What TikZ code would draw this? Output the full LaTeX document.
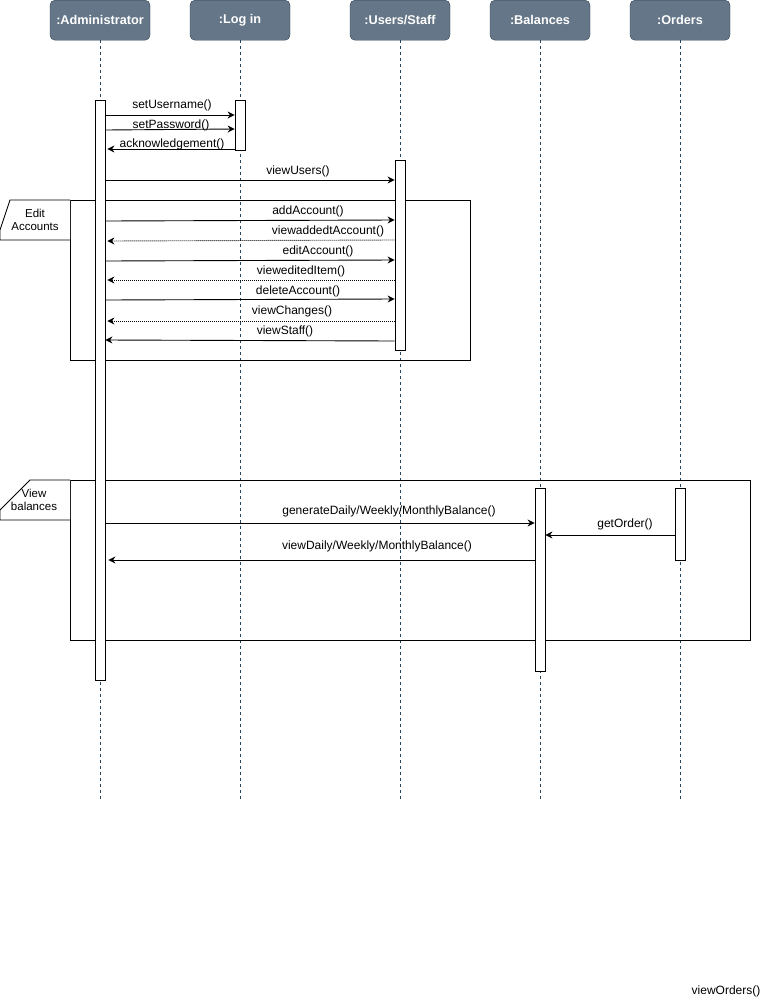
\documentclass[tikz,border=0pt]{standalone}
\usepackage{fontspec}
\setmainfont{Liberation Sans}
\usetikzlibrary{arrows.meta}
\definecolor{headfill}{HTML}{647687}
\definecolor{headline}{HTML}{314354}
\definecolor{lifecol}{HTML}{23445D}
\begin{document}
\begin{tikzpicture}[x=1pt,y=-1pt,
  head/.style={draw=headline,fill=headfill,rounded corners=5pt,minimum width=100pt,minimum height=40pt,
    anchor=north,inner sep=0pt,text=white,font=\fontsize{12.7}{14}\selectfont\bfseries},
  life/.style={draw=lifecol,dash pattern=on 3pt off 3pt,line width=0.8pt},
  act/.style={draw=black,fill=white,minimum width=10pt,anchor=north,inner sep=0pt,line width=0.8pt},
  umlframe/.style={draw=black,anchor=north west,inner sep=0pt,line width=0.9pt},
  msg/.style={draw=black,line width=0.9pt,-{Stealth[length=7pt,width=7pt]}},
  reply/.style={msg,dash pattern=on 1pt off 1pt},
  lbl/.style={inner sep=0pt,font=\fontsize{12}{14}\selectfont},
  tablbl/.style={inner sep=0pt,align=center,font=\fontsize{11.5}{13}\selectfont}]
\useasboundingbox[fill=white] (0,0) rectangle (771,1002);

% participants
\node[head] (hAdm) at (100,0) {:Administrator};
\node[head] (hLog) at (240,0) {:Log in};
\node[head] (hUsr) at (400,0) {:Users/Staff};
\node[head] (hBal) at (540,0) {:Balances};
\node[head] (hOrd) at (680,0) {:Orders};

% lifelines
\foreach \p in {hAdm,hLog,hUsr,hBal,hOrd}{
  \coordinate (\p-end) at (\p.south |- 0,800);
  \draw[life] (\p.south) -- (\p-end);
}

% combined fragments
\node[umlframe,minimum width=400pt,minimum height=160pt] (fEdit) at (70,200) {};
\draw[line width=0.9pt,fill=white] (fEdit.north west) -- (10,200) -- (0,230) -- (0,240) -- (70,240);
\node[tablbl] (tEdit) at (35,220) {Edit\\Accounts};

\node[umlframe,minimum width=680pt,minimum height=160pt] (fBal) at (70,480) {};
\draw[line width=0.9pt,fill=white] (fBal.north west) -- (30,480) -- (0,510) -- (0,520) -- (70,520);
\node[tablbl] (tBal) at (34,500) {View\\balances};

% activation bars
\node[act,minimum height=580pt] (aAdm) at (100,100) {};
\node[act,minimum height=50pt] (aLog) at (240,100) {};
\node[act,minimum height=190pt] (aUsr) at (400,160) {};
\node[act,minimum height=183pt] (aBal) at (540,488) {};
\node[act,minimum height=72pt] (aOrd) at (680,488) {};

% log in
\draw[msg] (aAdm.east |- 0,115) -- (aLog.west |- 0,115);
\node[lbl] (l1) at (172,105) {setUsername()};
\draw[msg] (aAdm.east |- 0,130) -- (aLog.west |- 0,129);
\node[lbl] (l2) at (171,125) {setPassword()};
\draw[msg] (aLog.west |- 0,149) -- ([xshift=2pt]aAdm.east |- 0,149);
\node[lbl] (l3) at (172,144) {acknowledgement()};
\draw[msg] (aAdm.east |- 0,180) -- (aUsr.west |- 0,180);
\node[lbl] (l4) at (298,171) {viewUsers()};

% edit accounts
\draw[msg] (aAdm.east |- 0,221) -- (aUsr.west |- 0,220);
\node[lbl] (l5) at (308,211) {addAccount()};
\draw[reply] (aUsr.west |- 0,240) -- ([xshift=2pt]aAdm.east |- 0,241);
\node[lbl] (l6) at (328,231) {viewaddedtAccount()};
\draw[msg] (aAdm.east |- 0,261) -- (aUsr.west |- 0,260);
\node[lbl] (l7) at (318,251) {editAccount()};
\draw[reply] (aUsr.west |- 0,280) -- ([xshift=2pt]aAdm.east |- 0,280);
\node[lbl] (l8) at (301,271) {vieweditedItem()};
\draw[msg] (aAdm.east |- 0,300) -- (aUsr.west |- 0,299);
\node[lbl] (l9) at (298,291) {deleteAccount()};
\draw[reply] (aUsr.west |- 0,321) -- ([xshift=2pt]aAdm.east |- 0,321);
\node[lbl] (l10) at (292,311) {viewChanges()};
\draw[msg] (aUsr.west |- 0,341) -- (aAdm.east |- 0,340);
\node[lbl] (l11) at (285,331) {viewStaff()};

% balances
\draw[msg] (aAdm.east |- 0,523) -- (aBal.west |- 0,523);
\node[lbl] (l12) at (389,511) {generateDaily/Weekly/MonthlyBalance()};
\draw[msg] (aOrd.west |- 0,535) -- (aBal.east |- 0,535);
\node[lbl] (l13) at (625,524) {getOrder()};
\draw[msg] (aBal.west |- 0,560) -- ([xshift=3pt]aAdm.east |- 0,560);
\node[lbl] (l14) at (377,546) {viewDaily/Weekly/MonthlyBalance()};

\node[lbl] (l15) at (726,991) {viewOrders()};
\end{tikzpicture}
\end{document}
